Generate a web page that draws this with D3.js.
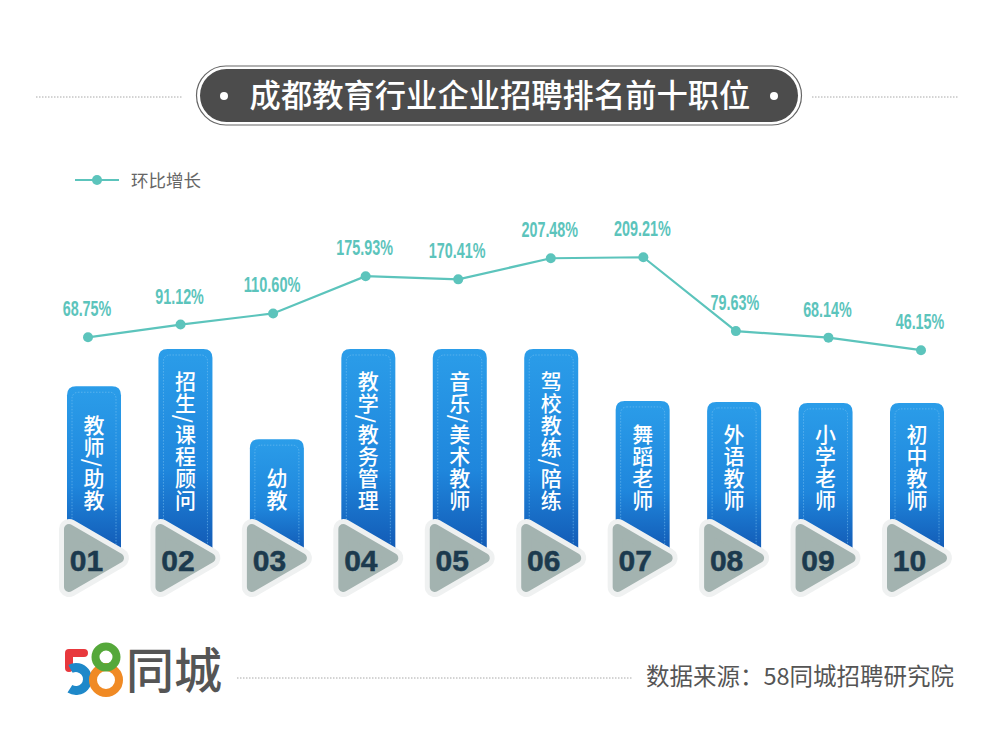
<!DOCTYPE html>
<html>
<head>
<meta charset="utf-8">
<script src="https://cdn.jsdelivr.net/npm/d3@7"></script>
<style>
  html, body { margin: 0; padding: 0; background: #fff; }
  svg { display: block; }
  text { font-family: "Noto Sans CJK SC", "Noto Sans", sans-serif; }
</style>
</head>
<body>
<svg id="chart" width="1000" height="750"></svg>
<script>
const titleText = '成都教育行业企业招聘排名前十职位'
const legendText = '环比增长'
const sourceText = '数据来源：58同城招聘研究院'
const ranks = ['01', '02', '03', '04', '05', '06', '07', '08', '09', '10']
const jobs = ['教师/助教', '招生/课程顾问', '幼教', '教学/教务管理', '音乐/美术教师', '驾校教练/陪练', '舞蹈老师', '外语教师', '小学老师', '初中教师']
const growth = [68.75, 91.12, 110.6, 175.93, 170.41, 207.48, 209.21, 79.63, 68.14, 46.15]
// bars have no printed value, lengths read off the picture (longest = 100)
const barLength = [81, 100, 54, 100, 100, 100, 73.5, 73, 72.5, 72.5]

const svg = d3.select('#chart')
const defs = svg.append('defs')

const grad = defs.append('linearGradient')
  .attr('id', 'barFill')
  .attr('x1', 0).attr('x2', 0).attr('y1', 0).attr('y2', 1)
grad.append('stop').attr('offset', '0%').attr('stop-color', '#2b9de9')
grad.append('stop').attr('offset', '60%').attr('stop-color', '#1f86dc')
grad.append('stop').attr('offset', '100%').attr('stop-color', '#1259b4')

// Scales
const xBar = d3.scalePoint().domain(ranks).range([94, 917])
const xLine = d3.scalePoint().domain(ranks).range([88, 921])
const yBar = d3.scaleLinear().domain([0, 100]).range([545, 349])
const yLine = d3.scaleLinear().domain([0, 250]).range([376.5, 234])

// Title
function dotted(x1, x2, y) {
  svg.append('line')
    .attr('x1', x1).attr('x2', x2).attr('y1', y).attr('y2', y)
    .attr('stroke', '#a8a8a8')
    .attr('stroke-width', 1)
    .attr('stroke-dasharray', '1.5 1.5')
}
dotted(36, 182, 97)
dotted(812, 958, 97)

svg.append('rect')
  .attr('x', 196.5).attr('y', 66)
  .attr('width', 605).attr('height', 59)
  .attr('rx', 29.5)
  .attr('fill', '#fff')
  .attr('stroke', '#666')
  .attr('stroke-width', 1.2)
svg.append('rect')
  .attr('x', 200).attr('y', 69)
  .attr('width', 598).attr('height', 53)
  .attr('rx', 26.5)
  .attr('fill', '#4c4c4c')
svg.selectAll('.title-dot')
  .data([224, 774])
  .join('circle')
  .attr('class', 'title-dot')
  .attr('cx', d => d).attr('cy', 96).attr('r', 4)
  .attr('fill', '#fff')
svg.append('text')
  .attr('x', 500).attr('y', 107)
  .attr('text-anchor', 'middle')
  .attr('font-size', 31.3)
  .attr('font-weight', 500)
  .attr('fill', '#fff')
  .text(titleText)

// Legend
svg.append('line')
  .attr('x1', 75).attr('x2', 119).attr('y1', 180).attr('y2', 180)
  .attr('stroke', '#5cc4bc').attr('stroke-width', 2)
svg.append('circle')
  .attr('cx', 97).attr('cy', 180).attr('r', 5)
  .attr('fill', '#5cc4bc')
svg.append('text')
  .attr('x', 131).attr('y', 187)
  .attr('font-size', 17.5)
  .attr('fill', '#666')
  .text(legendText)

// Line
const line = d3.line()
  .x((d, i) => xLine(ranks[i]))
  .y(d => yLine(d))
svg.append('path')
  .datum(growth)
  .attr('d', line)
  .attr('fill', 'none')
  .attr('stroke', '#5cc4bc')
  .attr('stroke-width', 2.2)
svg.selectAll('.pt')
  .data(growth)
  .join('circle')
  .attr('class', 'pt')
  .attr('cx', (d, i) => xLine(ranks[i]))
  .attr('cy', d => yLine(d))
  .attr('r', 5)
  .attr('fill', '#5cc4bc')
svg.selectAll('.pt-label')
  .data(growth)
  .join('text')
  .attr('class', 'pt-label')
  .attr('x', (d, i) => xLine(ranks[i]) - 1)
  .attr('y', d => yLine(d) - 21)
  .attr('text-anchor', 'middle')
  .attr('font-size', 22)
  .attr('font-weight', 700)
  .style('font-family', '"Liberation Sans", sans-serif')
  .attr('fill', '#5cc4bc')
  .attr('lengthAdjust', 'spacingAndGlyphs')
  .attr('textLength', d => (d.toFixed(2).length + 1) * 8.1)
  .text(d => d.toFixed(2) + '%')

// Bars
const barW = 54
const bars = svg.selectAll('.bar')
  .data(ranks)
  .join('g')
  .attr('class', 'bar')
  .attr('transform', d => `translate(${xBar(d)},0)`)

bars.append('path')
  .attr('fill', 'url(#barFill)')
  .attr('d', (d, i) => {
    const t = yBar(barLength[i])
    const l = -barW / 2
    const r = barW / 2
    return `M${l},552V${t + 9}Q${l},${t} ${l + 9},${t}H${r - 9}Q${r},${t} ${r},${t + 9}V552Z`
  })
bars.append('rect')
  .attr('x', -barW / 2 + 5)
  .attr('y', (d, i) => yBar(barLength[i]) + 6)
  .attr('width', barW - 10)
  .attr('height', (d, i) => 552 - yBar(barLength[i]) - 6)
  .attr('rx', 6)
  .attr('fill', 'none')
  .attr('stroke', '#7cc4f2')
  .attr('stroke-width', 0.8)
  .attr('stroke-dasharray', '1.5 1.5')
  .attr('opacity', 0.7)
bars.append('text')
  .attr('x', 0)
  .attr('y', 512)
  .attr('text-anchor', 'end')
  .attr('font-size', 21)
  .attr('font-weight', 500)
  .attr('letter-spacing', 1)
  .attr('fill', '#fff')
  .style('writing-mode', 'vertical-rl')
  .text((d, i) => jobs[i])

// Rank triangles
const triPath = 'M-25,529L25,558L-25,587Z'
bars.append('path')
  .attr('d', triPath)
  .attr('fill', '#eff1f1')
  .attr('stroke', '#eff1f1')
  .attr('stroke-width', 20)
  .attr('stroke-linejoin', 'round')
bars.append('path')
  .attr('d', triPath)
  .attr('fill', '#a3b3b0')
  .attr('stroke', '#a3b3b0')
  .attr('stroke-width', 10)
  .attr('stroke-linejoin', 'round')
bars.append('text')
  .attr('x', -7.5)
  .attr('y', 571)
  .attr('text-anchor', 'middle')
  .attr('font-size', 30)
  .attr('font-weight', 700)
  .style('font-family', '"Liberation Sans", sans-serif')
  .attr('fill', '#1c3a4e')
  .attr('stroke', '#1c3a4e')
  .attr('stroke-width', 0.5)
  .text(d => d)

// Footer logo
const logo = svg.append('g').attr('fill', 'none').attr('stroke-linecap', 'round')
const arc = d3.arc()
logo.append('path')
  .attr('d', 'M84,653H69V668')
  .attr('stroke', '#e8383d').attr('stroke-width', 8)
  .attr('stroke-linejoin', 'round')
logo.append('path')
  .attr('transform', 'translate(76,679)')
  .attr('d', arc({ innerRadius: 11.5, outerRadius: 11.5, startAngle: -0.5, endAngle: 3.7 }))
  .attr('stroke', '#1e88c9').attr('stroke-width', 9)
logo.append('circle')
  .attr('cx', 106).attr('cy', 680).attr('r', 13)
  .attr('stroke', '#f08a24').attr('stroke-width', 8)
logo.append('circle')
  .attr('cx', 106).attr('cy', 657).attr('r', 10.5)
  .attr('stroke', '#55a83a').attr('stroke-width', 8)

svg.append('text')
  .attr('x', 126).attr('y', 688)
  .attr('font-size', 48)
  .attr('font-weight', 500)
  .attr('fill', '#555')
  .text('同城')

dotted(237, 632, 678)

svg.append('text')
  .attr('x', 954).attr('y', 685)
  .attr('text-anchor', 'end')
  .attr('font-size', 23.5)
  .attr('fill', '#555')
  .text(sourceText)
</script>
</body>
</html>
